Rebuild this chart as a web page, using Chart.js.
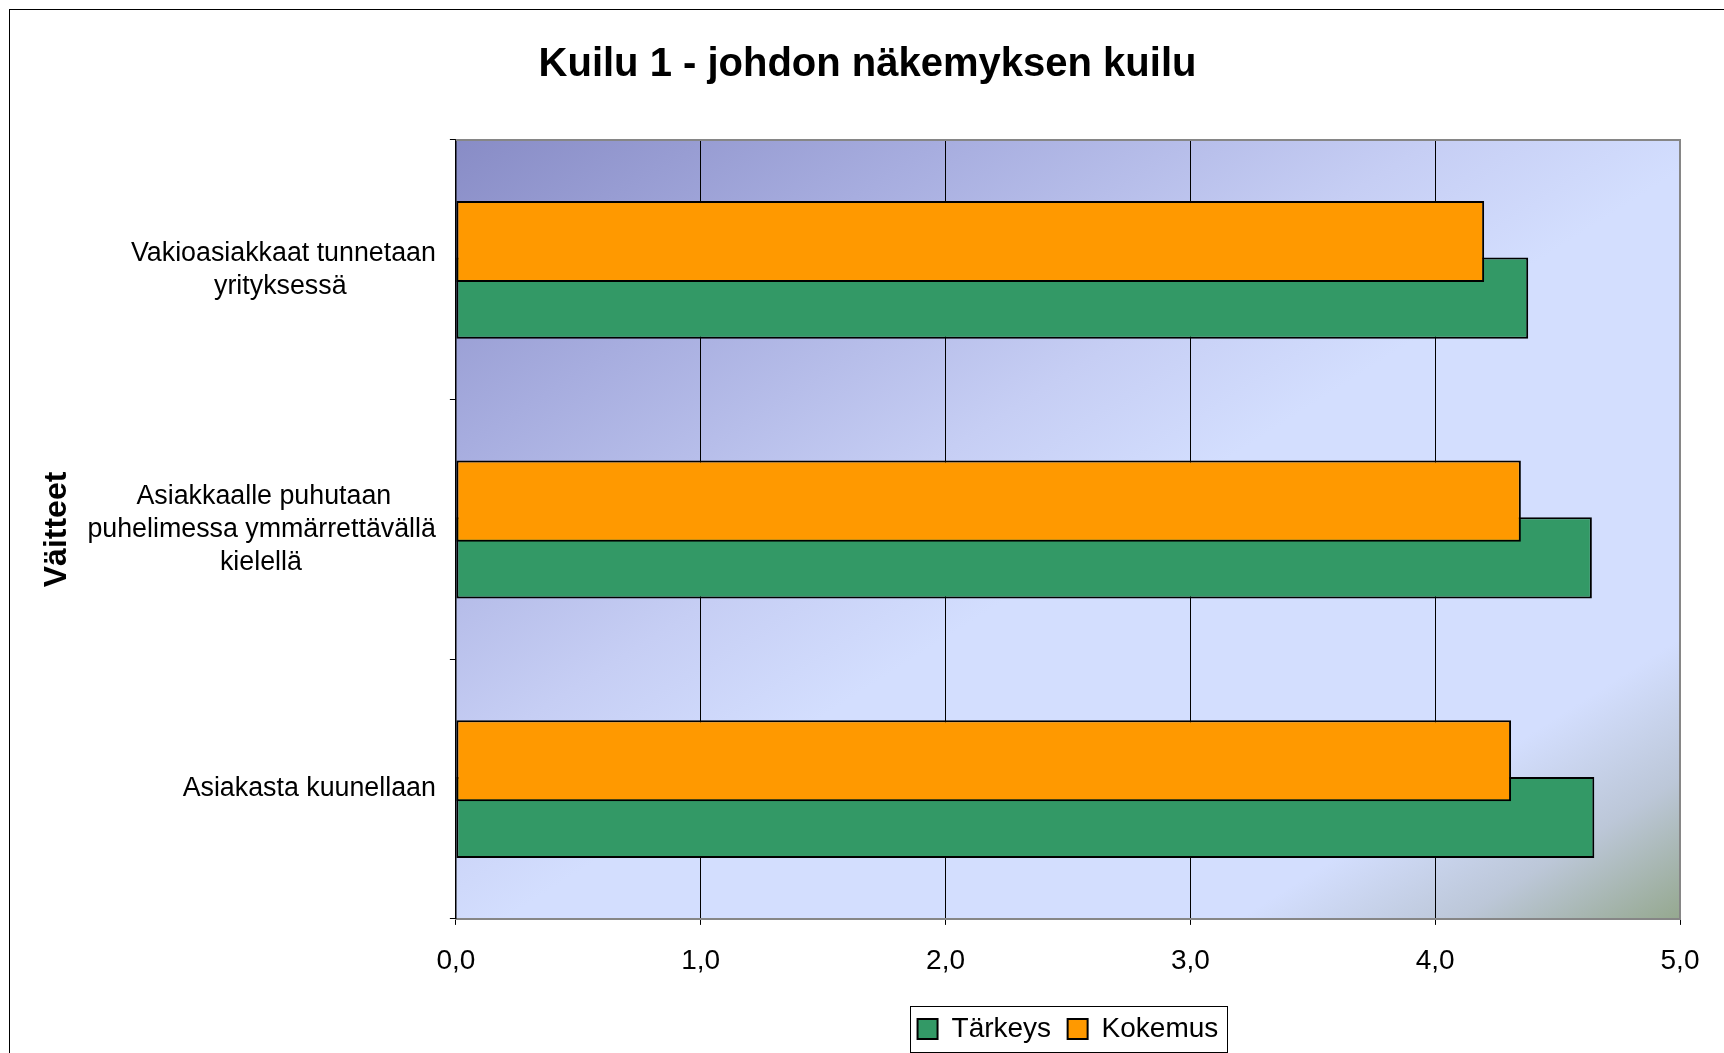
<!DOCTYPE html>
<html>
<head>
<meta charset="utf-8">
<script src="https://cdn.jsdelivr.net/npm/chart.js@4.4.0/dist/chart.umd.min.js"></script>
<style>
  body { margin: 0; background: #fff; }
</style>
</head>
<body>
<canvas id="grafico" width="1724" height="1053"></canvas>
<script>
//datos del grafico
var titulo = "Kuilu 1 - johdon näkemyksen kuilu";
var tituloEje = "Väitteet";
var categorias = [
  ["Vakioasiakkaat tunnetaan", "yrityksessä"],
  ["Asiakkaalle puhutaan", "puhelimessa ymmärrettävällä", "kielellä"],
  ["Asiakasta kuunellaan"]
];
var tarkeys = [4.38, 4.64, 4.65];
var kokemus = [4.20, 4.35, 4.31];
var etiquetasX = ["0,0", "1,0", "2,0", "3,0", "4,0", "5,0"];

var fuente = "'Liberation Sans', Arial, sans-serif";
var tamEtiqueta = 26.8;
Chart.defaults.font.family = fuente;
Chart.defaults.color = "#000";

//se centran las lineas de cada etiqueta dentro de su bloque rellenando con espacios
var medidor = document.createElement("canvas").getContext("2d");
medidor.font = tamEtiqueta + "px " + fuente;
function centrarLineas(lineas) {
  var anchos = lineas.map(function (l) { return medidor.measureText(l).width; });
  var maximo = Math.max.apply(null, anchos);
  var espacio = medidor.measureText(" ").width;
  return lineas.map(function (l, i) {
    var n = Math.round((maximo - anchos[i]) / 2 / espacio);
    return l + " ".repeat(n);
  });
}

//fondo degradado, marco y recuadro de la leyenda
var decorado = {
  id: "decorado",
  beforeDraw: function (chart) {
    var ctx = chart.ctx, a = chart.chartArea;
    ctx.save();
    ctx.strokeStyle = "#000";
    ctx.lineWidth = 1;
    ctx.strokeRect(9.5, 9.5, chart.width + 20, chart.height + 20);
    ctx.translate(a.left, a.top);
    ctx.scale(a.right - a.left, a.bottom - a.top);
    var g = ctx.createLinearGradient(0, 0, 1, 1);
    g.addColorStop(0, "#888cc6");
    g.addColorStop(0.2, "#a7addf");
    g.addColorStop(0.4, "#c6cef4");
    g.addColorStop(0.52, "#d3defe");
    g.addColorStop(0.82, "#d3defe");
    g.addColorStop(0.91, "#bcc7d8");
    g.addColorStop(1, "#95a88f");
    ctx.fillStyle = g;
    ctx.fillRect(0, 0, 1, 1);
    ctx.restore();
  },
  beforeDatasetsDraw: function (chart) {
    var ctx = chart.ctx, a = chart.chartArea;
    ctx.save();
    ctx.strokeStyle = "#868686";
    ctx.lineWidth = 2;
    ctx.beginPath();
    ctx.moveTo(a.left, a.top);
    ctx.lineTo(a.right, a.top);
    ctx.lineTo(a.right, a.bottom);
    ctx.stroke();
    ctx.restore();
  },
  afterDraw: function (chart) {
    var cajas = chart.legend.legendHitBoxes;
    if (!cajas || !cajas.length) return;
    var x0 = Math.min.apply(null, cajas.map(function (c) { return c.left; }));
    var x1 = Math.max.apply(null, cajas.map(function (c) { return c.left + c.width; }));
    var yc = cajas[0].top + cajas[0].height / 2;
    var ctx = chart.ctx;
    ctx.save();
    ctx.strokeStyle = "#000";
    ctx.lineWidth = 1;
    ctx.strokeRect(Math.round(x0 - 8) + 0.5, Math.round(yc - 23) + 0.5, Math.round(x1 - x0 + 16), 46);
    ctx.restore();
  }
};

var ctx = document.getElementById("grafico").getContext("2d");
var grafico = new Chart(ctx, {
  type: "bar",
  data: {
    labels: categorias,
    datasets: [
      {
        label: "Kokemus",
        data: kokemus,
        backgroundColor: "#ff9900",
        borderColor: "#000",
        borderWidth: 2,
        borderSkipped: false
      },
      {
        label: "Tärkeys",
        data: tarkeys,
        backgroundColor: "#339966",
        borderColor: "#000",
        borderWidth: 2,
        borderSkipped: false
      }
    ]
  },
  options: {
    indexAxis: "y",
    responsive: false,
    animation: false,
    categoryPercentage: 0.437,
    barPercentage: 1.43,
    layout: { padding: { left: 55, right: 44, top: 0, bottom: 0 } },
    scales: {
      x: {
        min: 0,
        max: 5,
        ticks: {
          stepSize: 1,
          padding: 20,
          font: { size: 28 },
          callback: function (v, i) { return etiquetasX[i]; }
        },
        grid: { color: "#000", lineWidth: 1, tickLength: 6 },
        border: { color: "#868686", width: 2 }
      },
      y: {
        ticks: {
          padding: 14,
          font: { size: tamEtiqueta, lineHeight: 1.24 },
          callback: function (v, i) { return centrarLineas(categorias[i]); }
        },
        grid: { drawOnChartArea: false, color: "#000", tickLength: 6 },
        border: { color: "#000", width: 1.5 },
        title: {
          display: true,
          text: tituloEje,
          font: { size: 32, weight: "bold" },
          padding: { top: -16.7, bottom: -3.3 }
        }
      }
    },
    plugins: {
      title: {
        display: true,
        text: titulo,
        font: { size: 40, weight: "bold" },
        padding: { top: 41, bottom: 51 }
      },
      legend: {
        position: "bottom",
        fullSize: false,
        reverse: true,
        labels: {
          boxWidth: 20,
          boxHeight: 20,
          padding: 16.5,
          font: { size: 28 }
        }
      },
      tooltip: { enabled: false }
    }
  },
  plugins: [decorado]
});
</script>
</body>
</html>
